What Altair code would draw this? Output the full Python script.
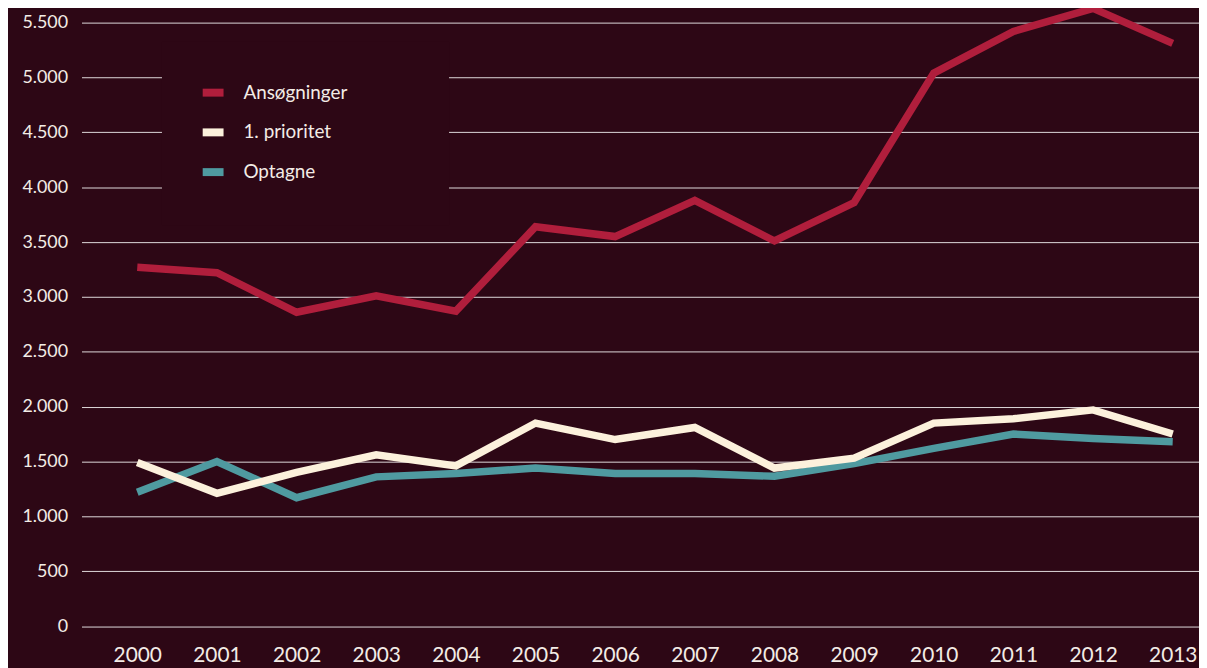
import altair as alt
import pandas as pd

years = list(range(2000, 2014))
ansogninger = [3270, 3220, 2860, 3010, 2870, 3640, 3550, 3880, 3510, 3860, 5040, 5420, 5630, 5310]
prioritet = [1490, 1210, 1400, 1560, 1460, 1850, 1700, 1810, 1440, 1530, 1850, 1890, 1970, 1750]
optagne = [1220, 1500, 1170, 1360, 1390, 1440, 1390, 1390, 1365, 1480, 1620, 1750, 1710, 1680]

series_names = ["Ansøgninger", "1. prioritet", "Optagne"]
series_colors = ["#b01e3c", "#fcf1dc", "#4f9aa0"]
y_ticks = list(range(0, 5501, 500))

rows = []
# drawing order: teal first, cream, then red
for name, vals in [("Optagne", optagne), ("1. prioritet", prioritet), ("Ansøgninger", ansogninger)]:
    for yr, v in zip(years, vals):
        rows.append({"year": yr, "value": v, "series": name})
df = pd.DataFrame(rows)

BG = "#2d0715"
TXT = "#f3ece6"
FONT = "Lato"

chart = alt.Chart(df).mark_line(strokeWidth=7.5, strokeCap="butt", strokeJoin="miter").encode(
    x=alt.X("year:Q",
            scale=alt.Scale(domain=[1999.3, 2013.33], nice=False, zero=False),
            axis=alt.Axis(values=years, format="d", title=None, grid=False, domain=False,
                          ticks=False, labelPadding=19, labelFontSize=21, labelColor=TXT,
                          labelFont=FONT)),
    y=alt.Y("value:Q",
            scale=alt.Scale(domain=[0, 5500], nice=False),
            axis=alt.Axis(values=y_ticks, title=None, domain=False, ticks=False,
                          labelExpr="replace(format(datum.value, ','), ',', '.')",
                          labelPadding=14, labelFontSize=18, labelColor=TXT, labelFont=FONT,
                          gridColor="#ffffff", gridOpacity=0.85, gridWidth=1)),
    color=alt.Color("series:N",
                    scale=alt.Scale(domain=series_names, range=series_colors),
                    legend=alt.Legend(title="\u00a0", titleFontSize=8, titlePadding=65,
                                      titleOrient="right",
                                      orient="none", legendX=81, legendY=19,
                                      padding=37, fillColor=BG, symbolType="stroke",
                                      symbolStrokeWidth=8, symbolSize=441,
                                      labelFontSize=19, labelColor=TXT, labelFont=FONT,
                                      labelOffset=16, rowPadding=7)),
).properties(
    width=1125,
    height=607.5,
    background=BG,
    padding={"left": 74, "top": 12.5, "right": 0, "bottom": 40},
    autosize=alt.AutoSizeParams(type="none"),
).configure_view(stroke=None)

chart.save("out.html", embed_options={"renderer": "svg", "actions": False})
